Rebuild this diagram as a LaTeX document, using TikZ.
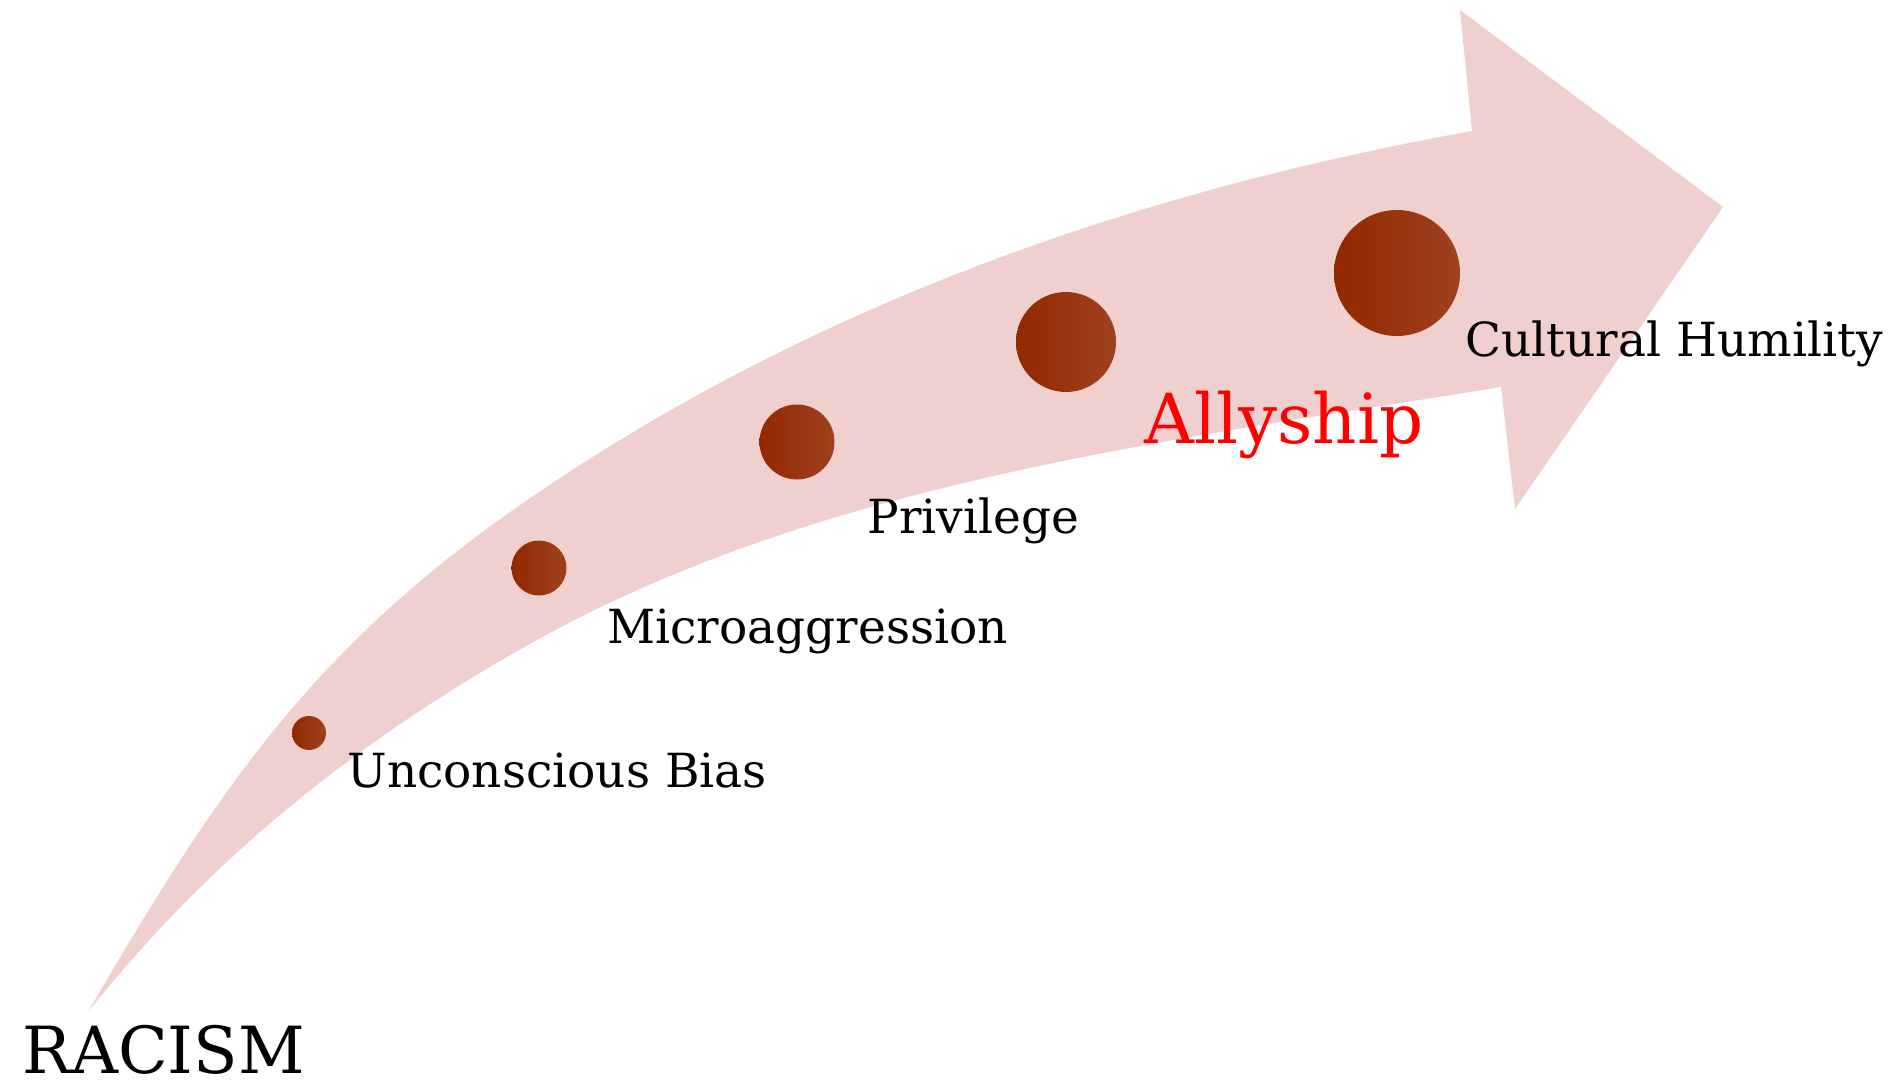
\documentclass[tikz,border=0pt]{standalone}
\usepackage{fontspec}
\setmainfont{DejaVu Serif}
\definecolor{bandPink}{HTML}{EFD0CE}
\definecolor{dotRust}{HTML}{922800}
\definecolor{allyRed}{HTML}{FF0000}

\begin{document}
\begin{tikzpicture}[x=0.5pt, y=-0.5pt,
    dot/.style={circle, inner sep=0pt, left color=dotRust, middle color=dotRust,
      right color=dotRust!88!white},
    lbl/.style={anchor=base west, inner sep=0pt, font=\fontsize{23.5}{28}\selectfont}]
  \useasboundingbox (0,0) rectangle (1903,1081);
  % curved band and its head
  \fill[bandPink] (88,1012) .. controls (214,796) and (308,654) .. (513,510)
    .. controls (800,309) and (1128,193) .. (1472,131)
    -- (1460,10) -- (1723,207) -- (1515,509) -- (1501,387)
    .. controls (1175,440) and (826,480) .. (537,640)
    .. controls (362,737) and (212,856) .. (88,1012) -- cycle;
  % steps
  \node[dot, minimum size=17pt] (d1) at (309,733) {};
  \node[dot, minimum size=27.5pt] (d2) at (539,568) {};
  \node[dot, minimum size=37.5pt] (d3) at (797,442) {};
  \node[dot, minimum size=50pt] (d4) at (1066,342) {};
  \node[dot, minimum size=63pt] (d5) at (1397,273) {};
  \node[lbl] (ub) at (347,787) {Unconscious Bias};
  \node[lbl] (ma) at (607,643) {Microaggression};
  \node[lbl] (pv) at (867,533) {Privilege};
  \node[lbl, text=allyRed, font=\fontsize{34.5}{40}\selectfont] (al) at (1144,443) {Allyship};
  \node[lbl] (ch) at (1465,357) {Cultural Humility};
  \node[lbl, font=\fontsize{32.5}{38}\selectfont] (rc) at (22,1073) {RACISM};
\end{tikzpicture}
\end{document}
